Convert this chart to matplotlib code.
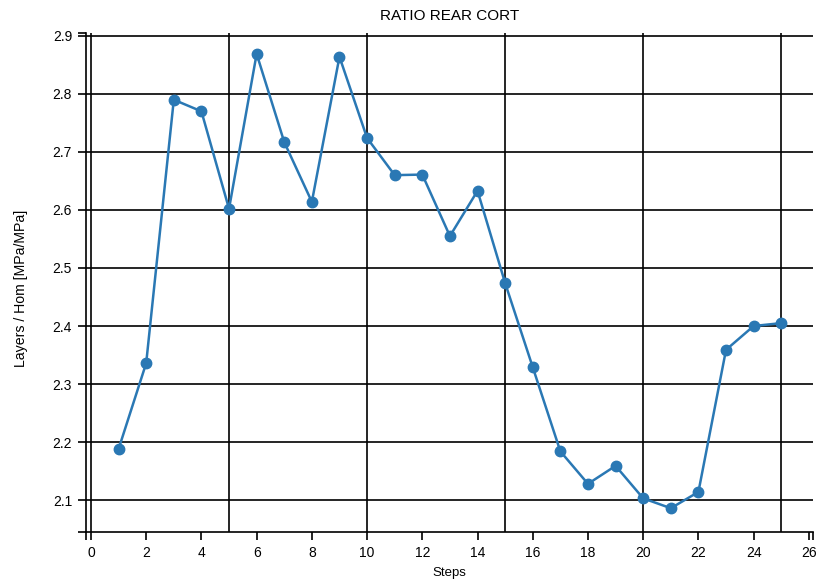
import matplotlib
matplotlib.use("Agg")
import matplotlib.pyplot as plt

plt.rcParams['font.family'] = ['Liberation Sans', 'DejaVu Sans']

steps = list(range(1, 26))
ratio = [2.188, 2.336, 2.790, 2.770, 2.602, 2.869, 2.717, 2.614, 2.864, 2.724,
         2.660, 2.661, 2.555, 2.633, 2.474, 2.329, 2.184, 2.128, 2.159, 2.103,
         2.086, 2.114, 2.359, 2.400, 2.405]
x_ticks = list(range(0, 27, 2))
y_ticks = [2.1, 2.2, 2.3, 2.4, 2.5, 2.6, 2.7, 2.8, 2.9]
x_grid = [0, 5, 10, 15, 20, 25]

W, H = 817, 582
fig = plt.figure(figsize=(W / 100, H / 100), dpi=100)
ax = fig.add_axes([86 / W, 1 - 532 / H, (813 - 86) / W, (532 - 33) / H])

xlim = (-0.18, 26.15)
ylim = (2.045, 2.905)
ax.set_xlim(*xlim)
ax.set_ylim(*ylim)

# grid lines
for g in x_grid:
    ax.axvline(g, color='black', lw=1.2, zorder=1)
for g in y_ticks:
    ax.axhline(g, color='black', lw=1.2, zorder=1)

ax.plot(steps, ratio, color='#2a78b4', lw=1.8, marker='o', markersize=7.5, zorder=3)

for s in ['top', 'right']:
    ax.spines[s].set_visible(False)
for s in ['left', 'bottom']:
    ax.spines[s].set_color('black')
    ax.spines[s].set_linewidth(1.2)

ax.set_xticks(x_ticks)
ax.set_yticks(y_ticks)
ax.set_xticklabels([str(v) for v in x_ticks])
ax.set_yticklabels([f"{v:.1f}" for v in y_ticks])
# outer ticks at domain ends
ax.set_xticks(list(xlim), minor=True)
ax.set_yticks(list(ylim), minor=True)
ax.tick_params(which='both', direction='out', length=6, width=1.2, color='black',
               labelsize=10, pad=4)

ax.set_title('RATIO REAR CORT', fontsize=11, pad=9)
ax.set_xlabel('Steps', fontsize=9.5, labelpad=5)
ax.set_ylabel('Layers / Hom [MPa/MPa]', fontsize=10.2, labelpad=18)
ax.yaxis.label.set_y(0.488)

fig.savefig('out.png', dpi=100)
